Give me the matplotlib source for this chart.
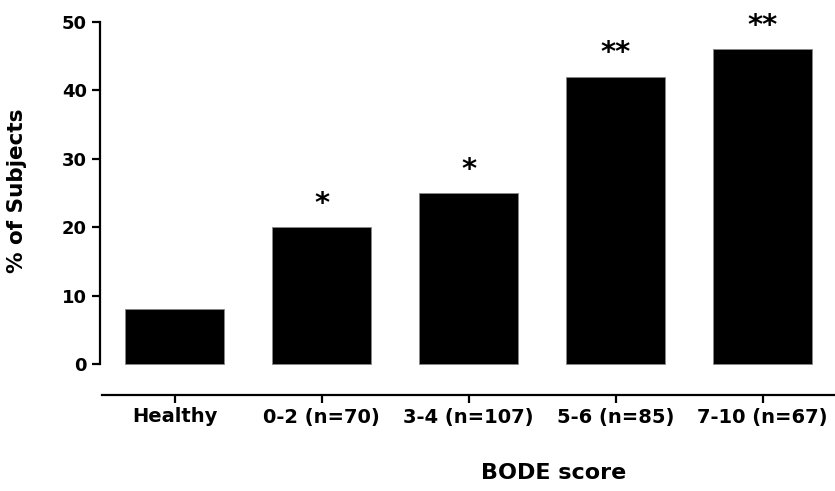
import matplotlib.pyplot as plt

plt.rcParams['font.family'] = ['DejaVu Sans']
plt.rcParams['font.weight'] = 'bold'

groups = ['Healthy', '0-2 (n=70)', '3-4 (n=107)', '5-6 (n=85)', '7-10 (n=67)']
percent = [8, 20, 25, 42, 46]
signif = ['', '*', '*', '**', '**']

fig = plt.figure(figsize=(8.35, 4.91), dpi=100)
ax = fig.add_axes([100 / 835, 96 / 491, 735 / 835, 373 / 491])

x = list(range(len(groups)))
ax.bar(x, percent, width=0.673, color='black', edgecolor='#888888', linewidth=0.6)

# significance stars above bars
for xi, v, s in zip(x, percent, signif):
    if s:
        ax.annotate(s, (xi, v), xytext=(0, 11), textcoords='offset points',
                    ha='center', va='baseline', fontsize=21, fontweight='bold')

ax.set_xlim(-0.507, 4.493)
ax.set_ylim(-4.53, 50)
ax.set_yticks([0, 10, 20, 30, 40, 50])
ax.set_xticks(x)
ax.set_xticklabels(groups)

for side in ['top', 'right']:
    ax.spines[side].set_visible(False)
ax.spines['left'].set_bounds(0, 50)
ax.spines['bottom'].set_bounds(-0.49, 4.493)
ax.spines['left'].set_linewidth(1.6)
ax.spines['bottom'].set_linewidth(1.6)

ax.tick_params(axis='y', length=6, width=1.6, labelsize=13, pad=3.5)
ax.tick_params(axis='x', length=6, width=1.6, labelsize=14, pad=3)

ax.set_ylabel('% of Subjects', fontsize=15.5, fontweight='bold')
ax.yaxis.set_label_coords(-0.099, 0.547)

fig.text(554 / 835, 1 - 473 / 491, 'BODE score', ha='center', va='center',
         fontsize=16, fontweight='bold')

plt.savefig('out.png', dpi=100)
